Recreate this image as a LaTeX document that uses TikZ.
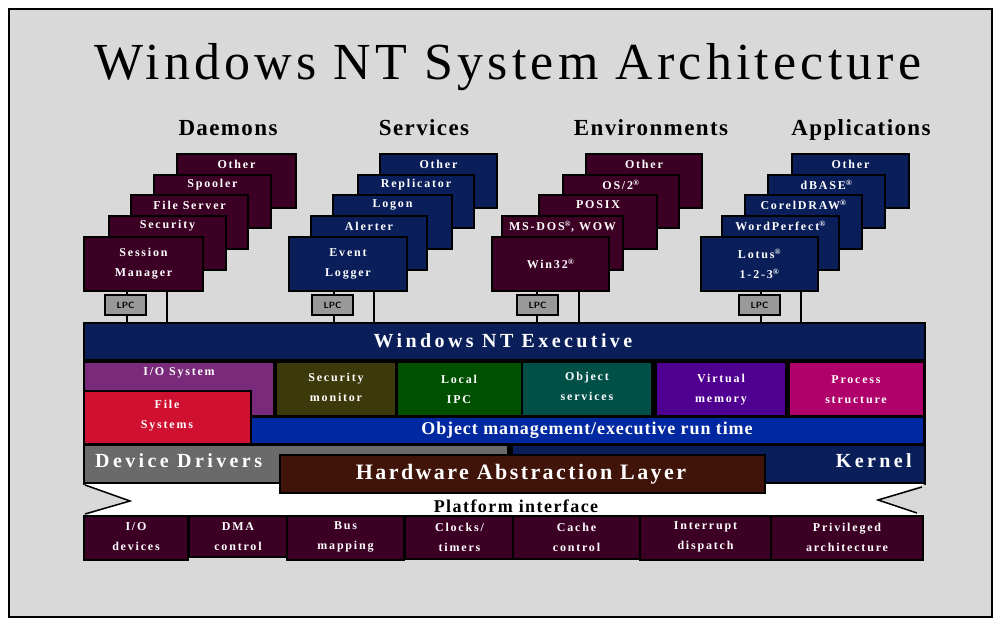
\documentclass[tikz,border=0pt]{standalone}
\usepackage{fontspec}
\setmainfont{Liberation Serif}
\usetikzlibrary{calc}
\definecolor{bgc}{RGB}{217,217,217}
\definecolor{maroon}{RGB}{60,0,36}
\definecolor{navy}{RGB}{10,30,90}
\definecolor{iopurple}{RGB}{122,42,122}
\definecolor{fsred}{RGB}{208,16,48}
\definecolor{olive}{RGB}{60,58,10}
\definecolor{ipcgreen}{RGB}{0,80,0}
\definecolor{teal}{RGB}{0,80,72}
\definecolor{violet}{RGB}{80,0,144}
\definecolor{magenta}{RGB}{176,0,106}
\definecolor{omblue}{RGB}{0,40,160}
\definecolor{ddgray}{RGB}{106,106,106}
\definecolor{brown}{RGB}{64,20,8}
\definecolor{lpcgray}{RGB}{153,153,153}
\newcommand\smf{\fontsize{12}{20}\selectfont\bfseries\addfontfeatures{LetterSpace=15}}
\newcommand\bigf[1]{\fontsize{#1}{#1}\selectfont\bfseries}
\newcommand\bx[6]{\node[blk,fill=#6,minimum width={(#4)-(#2)},minimum height={(#5)-(#3)}] (#1) at (#2,#3) {};}
\tikzset{
  frame/.style={draw=black,line width=2pt,fill=bgc,anchor=north west,inner sep=0pt,outer sep=0pt},
  blk/.style={draw=black,line width=1.5pt,anchor=north west,inner sep=0pt,outer sep=0pt},
  lbl/.style={text=white,font=\smf,inner sep=0pt,align=center},
  hdr/.style={font=\fontsize{23}{23}\selectfont\bfseries\addfontfeatures{LetterSpace=6},inner sep=0pt,anchor=base},
  lpcbox/.style={draw=black,line width=1.5pt,fill=lpcgray,minimum width=41pt,minimum height=20pt,inner sep=0pt,font=\fontsize{9}{9}\selectfont\bfseries\sffamily},
  conn/.style={draw=black,line width=1.5pt},
  notch/.style={draw=black,line width=1.5pt},
}
\begin{document}
\begin{tikzpicture}[x=1pt,y=-1pt]
\useasboundingbox (0,0) rectangle (1002,628);
\node[frame,minimum width=983pt,minimum height=608pt] (frame) at (9,9) {};
\node[inner sep=0pt,anchor=base] (title) at (508,80) {\fontsize{52}{52}\selectfont\addfontfeatures{LetterSpace=8}Windows NT System Architecture};
\node[hdr] (hd) at (228,136) {Daemons};
\node[hdr] (hs) at (424,136) {Services};
\node[hdr] (he) at (651,136) {Environments};
\node[hdr] (ha) at (861,136) {Applications};
% Daemons
\bx{d1}{177}{154}{296}{208}{maroon}
\bx{d2}{154}{175}{271}{228}{maroon}
\bx{d3}{131}{195}{248}{249}{maroon}
\bx{d4}{109}{216}{226}{270}{maroon}
\bx{d5}{84}{237}{203}{291}{maroon}
\node[lbl] (d1t) at ($(d1.north)+(0,10)$) {Other};
\node[lbl] (d2t) at ($(d2.north)+(0,10)$) {Spooler};
\node[lbl] (d3t) at ($(d3.north)+(0,10)$) {File Server};
\node[lbl] (d4t) at ($(d4.north)+(0,10)$) {Security};
\node[lbl] (d5t) at ($(d5.center)+(0,0)$) {Session\\Manager};
% Services
\bx{s1}{380}{154}{497}{208}{navy}
\bx{s2}{358}{175}{474}{228}{navy}
\bx{s3}{333}{195}{452}{249}{navy}
\bx{s4}{311}{216}{427}{270}{navy}
\bx{s5}{289}{237}{407}{291}{navy}
\node[lbl] (s1t) at ($(s1.north)+(0,10)$) {Other};
\node[lbl] (s2t) at ($(s2.north)+(0,10)$) {Replicator};
\node[lbl] (s3t) at ($(s3.north)+(0,10)$) {Logon};
\node[lbl] (s4t) at ($(s4.north)+(0,10)$) {Alerter};
\node[lbl] (s5t) at (s5.center) {Event\\Logger};
% Environments
\bx{e1}{586}{154}{702}{208}{maroon}
\bx{e2}{563}{175}{679}{228}{maroon}
\bx{e3}{539}{195}{657}{249}{maroon}
\bx{e4}{502}{216}{623}{270}{maroon}
\bx{e5}{492}{237}{609}{291}{maroon}
\node[lbl] (e1t) at ($(e1.north)+(0,10)$) {Other};
\node[lbl] (e2t) at ($(e2.north)+(0,10)$) {OS/2\textsuperscript{®}};
\node[lbl] (e3t) at ($(e3.north)+(0,10)$) {POSIX};
\node[lbl] (e4t) at ($(e4.north)+(0,11)$) {MS-DOS\textsuperscript{®}, WOW};
\node[lbl] (e5t) at (e5.center) {Win32\textsuperscript{®}};
% Applications
\bx{a1}{792}{154}{909}{208}{navy}
\bx{a2}{768}{175}{885}{228}{navy}
\bx{a3}{745}{195}{862}{249}{navy}
\bx{a4}{722}{216}{839}{270}{navy}
\bx{a5}{701}{237}{818}{291}{navy}
\node[lbl] (a1t) at ($(a1.north)+(0,10)$) {Other};
\node[lbl] (a2t) at ($(a2.north)+(0,10)$) {dBASE\textsuperscript{®}};
\node[lbl] (a3t) at ($(a3.north)+(0,10)$) {CorelDRAW\textsuperscript{®}};
\node[lbl] (a4t) at ($(a4.north)+(0,10)$) {WordPerfect\textsuperscript{®}};
\node[lbl] (a5t) at (a5.center) {Lotus\textsuperscript{®}\\1-2-3\textsuperscript{®}};
% Executive
\bx{back}{84}{358}{925}{484}{black}
\bx{exec}{84}{323}{925}{360}{navy}
\node[text=white,inner sep=0pt,anchor=base] (exect) at (503,348) {\bigf{20}\addfontfeatures{LetterSpace=17}Windows NT Executive};
% connectors with LPC
\coordinate (dl) at (127,300);
\coordinate (dr) at (167,300);
\coordinate (sl) at (334,300);
\coordinate (sr) at (374,300);
\coordinate (el) at (537,300);
\coordinate (er) at (579,300);
\coordinate (al) at (761,300);
\coordinate (ar) at (801,300);
\draw[conn] (d5.south -| dl) -- (exec.north -| dl);
\draw[conn] (d5.south -| dr) -- (exec.north -| dr);
\draw[conn] (s5.south -| sl) -- (exec.north -| sl);
\draw[conn] (s5.south -| sr) -- (exec.north -| sr);
\draw[conn] (e5.south -| el) -- (exec.north -| el);
\draw[conn] (e5.south -| er) -- (exec.north -| er);
\draw[conn] (a5.south -| al) -- (exec.north -| al);
\draw[conn] (a5.south -| ar) -- (exec.north -| ar);
\node[lpcbox] (lpc1) at (125.5,305) {LPC};
\node[lpcbox] (lpc2) at (332.5,305) {LPC};
\node[lpcbox] (lpc3) at (537.5,305) {LPC};
\node[lpcbox] (lpc4) at (759.5,305) {LPC};
% components
\bx{io}{84}{362}{274}{416}{iopurple}
\bx{sec}{276}{362}{396}{416}{olive}
\bx{ipc}{397}{362}{522}{416}{ipcgreen}
\bx{obj}{522}{362}{652}{416}{teal}
\bx{vm}{656}{362}{786}{416}{violet}
\bx{ps}{789}{362}{924}{416}{magenta}
\bx{om}{251}{417}{924}{444}{omblue}
\bx{fs}{84}{391}{251}{444}{fsred}
\node[lbl] (iot) at (179,373) {I/O System};
\node[lbl] (sect) at (336,387) {Security\\monitor};
\node[lbl] (ipct) at (459,389) {Local\\IPC};
\node[lbl] (objt) at (587,386) {Object\\services};
\node[lbl] (vmt) at (721,390) {Virtual\\memory};
\node[lbl] (pst) at (856,390) {Process\\structure};
\node[lbl] (fst) at (167,416) {File\\Systems};
\node[text=white,inner sep=0pt,anchor=base] (omt) at (587,435) {\bigf{18}\addfontfeatures{LetterSpace=5}Object management/executive run time};
% device drivers, kernel
\bx{dd}{84}{445}{508}{483}{ddgray}
\bx{kn}{512}{445}{925}{483}{navy}
\node[text=white,inner sep=0pt,anchor=base west] (ddt) at (95,467) {\bigf{20}\addfontfeatures{LetterSpace=17}Device Drivers};
\node[text=white,inner sep=0pt,anchor=base east] (knt) at (912,467) {\bigf{20}\addfontfeatures{LetterSpace=17}Kernel};
% platform band
\path[fill=white] (84,484) -- (925,484) -- (878,500) -- (925,516) -- (84,516) -- (130,500) -- cycle;
\draw[notch] (85,485) -- (130,501) -- (85,514);
\draw[notch] (922,487) -- (878,500) -- (917,513);
\bx{hal}{280}{455}{765}{493}{brown}
\node[text=white,inner sep=0pt,anchor=base] (halt) at (521,479) {\bigf{22}\addfontfeatures{LetterSpace=11}Hardware Abstraction Layer};
\node[inner sep=0pt,anchor=base] (pit) at (516,512) {\bigf{18}\addfontfeatures{LetterSpace=8}Platform interface};
% bottom row
\bx{b1}{84}{516}{188}{560}{maroon}
\bx{b2}{189}{516}{287}{557}{maroon}
\bx{b3}{287}{516}{404}{560}{maroon}
\bx{b4}{405}{516}{514}{559}{maroon}
\bx{b5}{513}{516}{640}{559}{maroon}
\bx{b6}{640}{516}{771}{560}{maroon}
\bx{b7}{771}{516}{923}{560}{maroon}
\node[lbl] (b1t) at ($(b1.north)+(0,21)$) {I/O\\devices};
\node[lbl] (b2t) at ($(b2.north)+(0,21)$) {DMA\\control};
\node[lbl] (b3t) at ($(b3.north)+(0,21)$) {Bus\\mapping};
\node[lbl] (b4t) at ($(b4.north)+(0,21)$) {Clocks/\\timers};
\node[lbl] (b5t) at ($(b5.north)+(0,21)$) {Cache\\control};
\node[lbl] (b6t) at ($(b6.north)+(0,21)$) {Interrupt\\dispatch};
\node[lbl] (b7t) at ($(b7.north)+(0,21)$) {Privileged\\architecture};
\end{tikzpicture}
\end{document}
